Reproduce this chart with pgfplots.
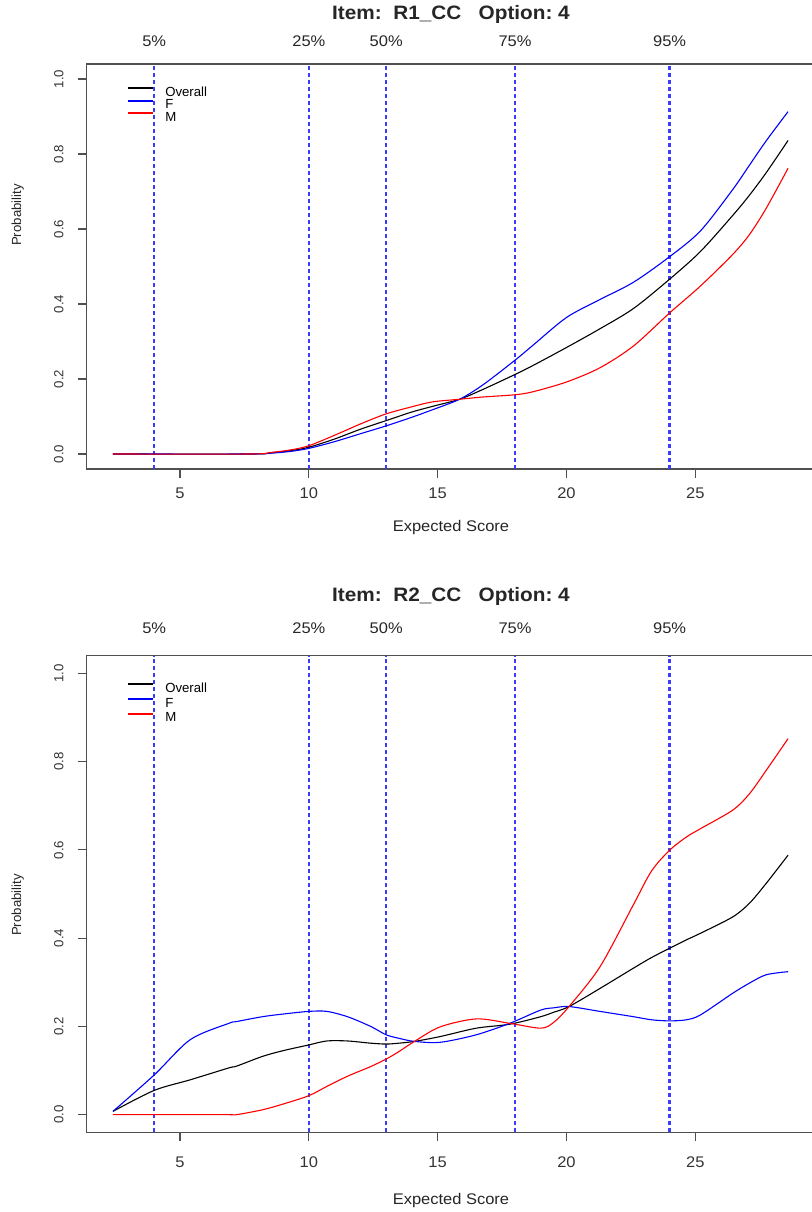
\documentclass[border=0pt]{standalone}
\usepackage{fontspec}
\setmainfont{Liberation Sans}
\newfontfamily\widesans{Liberation Sans}[FakeStretch=1.07]
\usepackage{pgfplots}
\pgfplotsset{compat=1.18}

\newcommand\tickfont{\widesans\fontsize{7.7pt}{9pt}\selectfont}
\newcommand\rotfont{\fontsize{6.6pt}{8pt}\selectfont}
\newcommand\titlefont{\widesans\bfseries\fontsize{9.7pt}{11pt}\selectfont}
\newcommand\legfont{\fontsize{6.6pt}{8pt}\selectfont}

\definecolor{qblue}{RGB}{60,60,255}
\definecolor{axgray}{RGB}{80,80,80}

\pgfplotstableread{
x     all    F      M
2.4   0.000  0.000  0.000
7.7   0.000  0.000  0.000
8.5   0.003  0.002  0.004
9.3   0.009  0.007  0.011
10.0  0.018  0.015  0.022
11.0  0.040  0.033  0.050
12.0  0.066  0.054  0.080
13.0  0.089  0.075  0.107
14.0  0.112  0.098  0.126
14.8  0.127  0.118  0.139
15.85 0.146  0.146  0.146
16.75 0.172  0.184  0.152
18.0  0.212  0.250  0.158
18.7  0.236  0.290  0.166
20.0  0.284  0.364  0.192
21.3  0.334  0.412  0.230
22.6  0.388  0.458  0.288
24.0  0.466  0.526  0.376
25.2  0.540  0.595  0.448
26.45 0.636  0.705  0.532
27.1  0.690  0.770  0.585
27.75 0.750  0.835  0.655
28.6  0.836  0.913  0.762
}\rone

\pgfplotstableread{
x     all     F       M
2.4   0.0075  0.0075  0.000
4.0   0.055   0.090   0.000
5.4   0.079   0.170   0.000
6.9   0.106   0.207   0.000
7.2   0.110   0.211   0.000
8.2   0.132   0.222   0.011
9.0   0.145   0.228   0.024
10.0  0.158   0.234   0.043
10.7  0.167   0.234   0.064
11.5  0.167   0.222   0.087
12.4  0.162   0.200   0.109
13.0  0.160   0.181   0.126
13.5  0.162   0.173   0.143
14.1  0.166   0.166   0.166
15.1  0.177   0.164   0.199
16.5  0.196   0.181   0.217
17.8  0.205   0.207   0.207
19.0  0.222   0.237   0.196
19.5  0.232   0.242   0.209
20.1  0.245   0.245   0.245
21.3  0.286   0.234   0.335
22.6  0.332   0.222   0.476
23.3  0.356   0.215   0.552
24.0  0.377   0.2125  0.599
24.65 0.396   0.215   0.629
25.2  0.411   0.226   0.648
26.45 0.448   0.275   0.690
27.1  0.479   0.298   0.727
27.75 0.524   0.317   0.780
28.6  0.588   0.324   0.852
}\rtwo

\pgfplotsset{
  iccaxis/.style={
    scale only axis,
    width=364.2pt,
    xmin=1.38, xmax=29.65, ymin=-0.04, ymax=1.04,
    xtick={5,10,15,20,25},
    ytick={0,0.2,0.4,0.6,0.8,1},
    xtick pos=bottom, ytick pos=left,
    tick align=outside,
    major tick length=4.3pt,
    tick style={axgray, line width=0.6pt},
    axis line style={axgray, line width=0.6pt},
    clip=false,
    /pgf/number format/assume math mode=true,
    xticklabel style={font=\tickfont, text=black!80, anchor=base},
    yticklabel style={font=\rotfont, text=black!80, rotate=90, anchor=base,
      yshift=7.4pt,
      /pgf/number format/fixed, /pgf/number format/fixed zerofill,
      /pgf/number format/precision=1},
    legend cell align=left,
    legend image code/.code={\draw[##1, line width=1pt] (0pt,2.35pt) -- (12.5pt,2.35pt);},
    legend style={at={(rel axis cs:0.0549,0.9435)}, anchor=north west,
      draw=none, fill=none, inner sep=0pt, outer sep=0pt,
      column sep=5.8pt,
      nodes={inner sep=0pt, text height=4.8pt, text depth=1.45pt, font=\legfont}},
    every axis plot/.append style={line width=0.55pt},
  },
  cutline/.style={draw=qblue, line width=0.75pt, dash pattern=on 2pt off 1.5pt, forget plot},
}

\begin{document}
\begin{tikzpicture}
% ---------- item R1_CC ----------
\begin{axis}[iccaxis, at={(43.35pt,-234.5pt)}, anchor=south west, height=202.5pt,
  xticklabel style={yshift=-10.35pt},
  legend style={row sep=0pt}]
  \addplot[cutline] coordinates {(4,-0.04) (4,1.04)};
  \addplot[cutline] coordinates {(10,-0.04) (10,1.04)};
  \addplot[cutline] coordinates {(13,-0.04) (13,1.04)};
  \addplot[cutline] coordinates {(18,-0.04) (18,1.04)};
  \addplot[cutline, line width=1.1pt] coordinates {(24,-0.04) (24,1.04)};
  \addplot[black, smooth] table[x=x, y=all] {\rone};
  \addplot[blue, smooth] table[x=x, y=F] {\rone};
  \addplot[red, smooth] table[x=x, y=M] {\rone};
  \legend{Overall, F, M}
\end{axis}
% ---------- item R2_CC ----------
\begin{axis}[iccaxis, at={(43.35pt,-566.15pt)}, anchor=south west, height=238.3pt,
  xticklabel style={yshift=-13.2pt},
  legend style={row sep=1.15pt}]
  \addplot[cutline] coordinates {(4,-0.04) (4,1.04)};
  \addplot[cutline] coordinates {(10,-0.04) (10,1.04)};
  \addplot[cutline] coordinates {(13,-0.04) (13,1.04)};
  \addplot[cutline] coordinates {(18,-0.04) (18,1.04)};
  \addplot[cutline, line width=1.1pt] coordinates {(24,-0.04) (24,1.04)};
  \addplot[black, smooth] table[x=x, y=all] {\rtwo};
  \addplot[blue, smooth] table[x=x, y=F] {\rtwo};
  \addplot[red, smooth] table[x=x, y=M] {\rtwo};
  \legend{Overall, F, M}
\end{axis}

% titles, percentile labels and axis titles
\begin{scope}[every node/.style={inner sep=0pt, text=black!85}]
  \node[anchor=base, font=\titlefont] at (225.5pt,-9.9pt) {Item:\ \ R1\_CC\ \ \ Option:\ 4};
  \node[anchor=base, font=\titlefont] at (225.5pt,-300.85pt) {Item:\ \ R2\_CC\ \ \ Option:\ 4};
  \foreach \px/\lab in {154.2/5\%, 308.9/25\%, 386.2/50\%, 515.0/75\%, 669.6/95\%}{
    \node[anchor=base, font=\tickfont] at (\px*0.5pt,-23.35pt) {\lab};
    \node[anchor=base, font=\tickfont] at (\px*0.5pt,-316.65pt) {\lab};
  }
  \node[anchor=base, font=\tickfont] at (225.5pt,-265.5pt) {Expected Score};
  \node[anchor=base, font=\tickfont] at (225.5pt,-602pt) {Expected Score};
  \node[anchor=base, rotate=90, font=\rotfont] at (10.5pt,-107.5pt) {Probability};
  \node[anchor=base, rotate=90, font=\rotfont] at (10.5pt,-452.5pt) {Probability};
\end{scope}

\pgfresetboundingbox
\path (0pt,0pt) rectangle (405.5pt,-606pt);
\end{tikzpicture}
\end{document}
